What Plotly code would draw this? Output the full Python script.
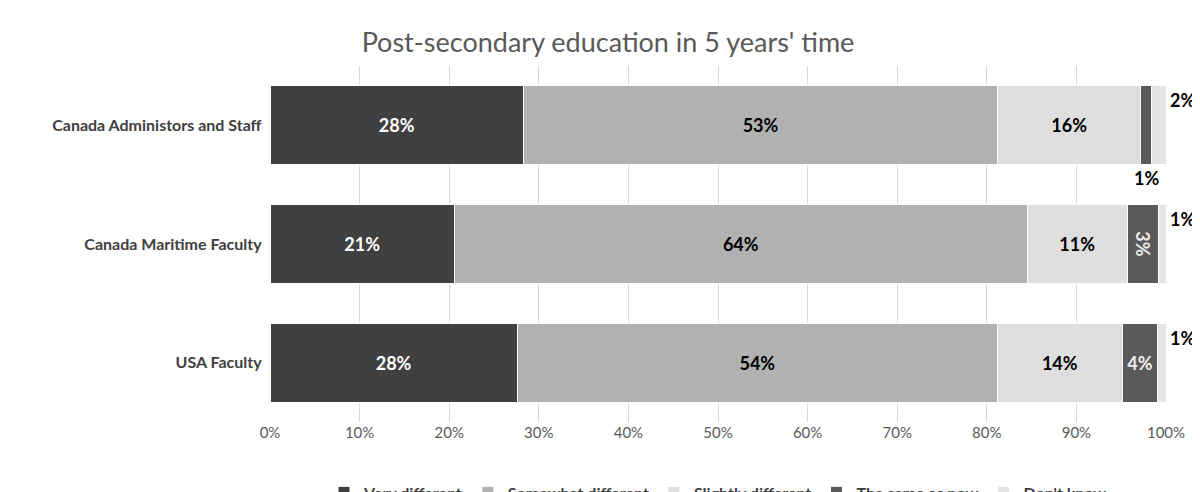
import plotly.graph_objects as go

categories = ["USA Faculty", "Canada Maritime Faculty", "Canada Administors and Staff"]
series_names = ["Very different", "Somewhat different", "Slightly different", "The same as now", "Don't know"]
values = [
    [27.6, 20.6, 28.3],
    [53.6, 63.9, 52.9],
    [13.9, 11.2, 16.0],
    [4.0, 3.5, 1.2],
    [0.9, 0.8, 1.6],
]
labels = [
    ["28%", "21%", "28%"],
    ["54%", "64%", "53%"],
    ["14%", "11%", "16%"],
    ["4%", "3%", ""],
    ["", "", ""],
]
outside_labels = [("1%", 0, 4), ("1%", 1, 4), ("2%", 2, 4), ("1%", 2, 3)]
colors = ["#404040", "#b1b1b1", "#dedede", "#5a5a5a", "#e4e4e4"]
text_colors = ["white", "black", "black", "#eeeeee", "black"]
ticks = [0, 10, 20, 30, 40, 50, 60, 70, 80, 90, 100]

fig = go.Figure()
for i, name in enumerate(series_names):
    fig.add_bar(y=categories, x=values[i], name=name, orientation="h",
                marker=dict(color=colors[i], line=dict(color="white", width=1)),
                text=labels[i], textposition="inside", insidetextanchor="middle",
                textfont=dict(color=text_colors[i], size=18, family="Lato", weight="bold"),
                hoverinfo="skip")

for txt, ci, si in outside_labels:
    if si == 3:
        x = sum(values[k][ci] for k in range(3)) + values[3][ci] / 2
        fig.add_annotation(x=x, y=categories[ci], text=txt, showarrow=False,
                           yshift=-53, font=dict(size=18, family="Lato", color="black", weight="bold"))
    else:
        fig.add_annotation(x=100, y=categories[ci], text=txt, showarrow=False, xanchor="left",
                           xshift=2, yshift=25, font=dict(size=18, family="Lato", color="black", weight="bold"))

fig.update_layout(
    barmode="stack", bargap=0.336,
    width=1200, height=492,
    margin=dict(l=262, r=42, t=58, b=78, autoexpand=False),
    plot_bgcolor="white", paper_bgcolor="white",
    title=dict(text="Post-secondary education in 5 years' time", x=0.5, xanchor="center", y=0.95,
               font=dict(size=27, family="Lato", color="#595959")),
    font=dict(family="Lato", color="#404040"),
    xaxis=dict(range=[0, 100], tickvals=ticks, ticktext=[f"{t}%" for t in ticks],
               showgrid=True, gridcolor="#d9d9d9", zeroline=False,
               tickfont=dict(size=15, color="#595959")),
    yaxis=dict(tickfont=dict(size=16, color="#404040", weight="bold"), ticksuffix="  "),
    legend=dict(orientation="h", x=0.5, xanchor="center", y=-0.15, yanchor="top",
                font=dict(size=16, color="#404040", weight="bold"), traceorder="normal"),
)
fig.write_html("out.html")
